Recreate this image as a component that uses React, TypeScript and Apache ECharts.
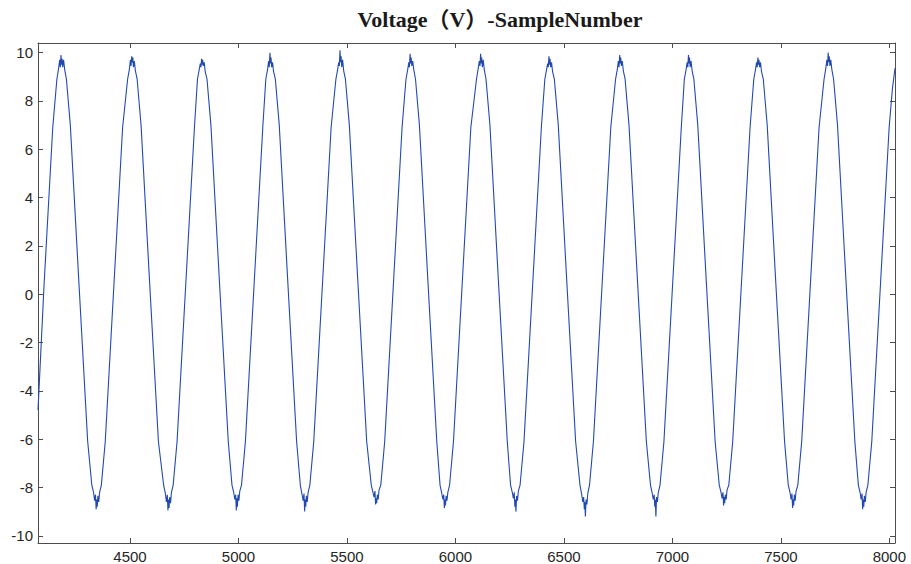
import React, { useEffect, useRef } from "react";
import * as echarts from "echarts";

const titleText = "Voltage（V）-SampleNumber";
const xTicks = [4500, 5000, 5500, 6000, 6500, 7000, 7500, 8000];
const yTicks = [-10, -8, -6, -4, -2, 0, 2, 4, 6, 8, 10];
const xRange = [4076, 8026];
const yRange = [-10.3, 10.4];

// [sample number, voltage]
const waveform: [number, number][] = [
  [4076, -4.8], [4104, 0.4], [4144, 6.9],
  [4163, 8.9], [4171, 9.35], [4176, 9.7], [4179, 9.4], [4182, 9.9], [4185, 9.5], [4187, 9.75], [4190, 9.4], [4194, 9.7], [4199, 9.3], [4207, 8.9], [4225, 7.0], [4265, 0.4], [4305, -6.1],
  [4324, -7.9], [4332, -8.2], [4337, -8.55], [4341, -8.3], [4344, -8.9], [4346, -8.5], [4349, -8.8], [4352, -8.35], [4356, -8.6], [4360, -8.2], [4368, -7.9], [4386, -6.1], [4426, 0.4], [4466, 6.9],
  [4489, 8.9], [4497, 9.3], [4502, 9.7], [4505, 9.45], [4508, 9.85], [4511, 9.6], [4513, 9.8], [4516, 9.4], [4520, 9.65], [4525, 9.25], [4533, 8.9], [4551, 7.0], [4591, 0.4], [4631, -6.1],
  [4655, -7.9], [4663, -8.25], [4668, -8.6], [4672, -8.3], [4675, -8.95], [4677, -8.5], [4680, -8.85], [4683, -8.4], [4687, -8.65], [4691, -8.2], [4699, -7.9], [4717, -6.1], [4757, 0.4], [4797, 6.9],
  [4811, 8.9], [4819, 9.3], [4824, 9.55], [4827, 9.4], [4830, 9.75], [4833, 9.5], [4835, 9.7], [4838, 9.45], [4842, 9.6], [4847, 9.2], [4855, 8.9], [4873, 7.0], [4913, 0.4], [4953, -6.1],
  [4970, -7.9], [4978, -8.2], [4983, -8.5], [4987, -8.3], [4990, -8.95], [4992, -8.45], [4995, -8.8], [4998, -8.3], [5002, -8.55], [5006, -8.15], [5014, -7.9], [5032, -6.1], [5072, 0.4], [5112, 6.9],
  [5126, 8.9], [5134, 9.3], [5139, 9.65], [5142, 9.4], [5145, 10.0], [5148, 9.55], [5150, 9.8], [5153, 9.4], [5157, 9.6], [5162, 9.2], [5170, 8.9], [5188, 7.0], [5228, 0.4], [5268, -6.1],
  [5285, -7.9], [5293, -8.3], [5298, -8.55], [5302, -8.25], [5305, -9.0], [5307, -8.5], [5310, -8.8], [5313, -8.35], [5317, -8.6], [5321, -8.2], [5329, -7.9], [5347, -6.1], [5387, 0.4], [5427, 6.9],
  [5449, 8.9], [5457, 9.3], [5462, 9.6], [5465, 9.45], [5468, 10.1], [5471, 9.6], [5473, 9.85], [5476, 9.4], [5480, 9.7], [5485, 9.25], [5493, 8.9], [5511, 7.0], [5551, 0.4], [5591, -6.1],
  [5612, -7.9], [5620, -8.2], [5625, -8.4], [5629, -8.15], [5632, -8.7], [5634, -8.45], [5637, -8.65], [5640, -8.3], [5644, -8.5], [5648, -8.1], [5656, -7.9], [5674, -6.1], [5714, 0.4], [5754, 6.9],
  [5772, 8.9], [5780, 9.3], [5785, 9.6], [5788, 9.4], [5791, 9.95], [5794, 9.55], [5796, 9.8], [5799, 9.45], [5803, 9.65], [5808, 9.3], [5816, 8.9], [5834, 7.0], [5874, 0.4], [5914, -6.1],
  [5929, -7.9], [5937, -8.25], [5942, -8.5], [5946, -8.3], [5949, -8.85], [5951, -8.5], [5954, -8.75], [5957, -8.35], [5961, -8.55], [5965, -8.2], [5973, -7.9], [5991, -6.1], [6031, 0.4], [6071, 6.9],
  [6097, 8.9], [6105, 9.35], [6110, 9.65], [6113, 9.45], [6116, 9.95], [6119, 9.55], [6121, 9.8], [6124, 9.4], [6128, 9.7], [6133, 9.3], [6141, 8.9], [6159, 7.0], [6199, 0.4], [6239, -6.1],
  [6254, -7.9], [6262, -8.2], [6267, -8.45], [6271, -8.2], [6274, -8.8], [6276, -8.5], [6279, -9.0], [6282, -8.35], [6286, -8.55], [6290, -8.15], [6298, -7.9], [6316, -6.1], [6356, 0.4], [6396, 6.9],
  [6412, 8.9], [6420, 9.3], [6425, 9.55], [6428, 9.4], [6431, 9.85], [6434, 9.5], [6436, 9.75], [6439, 9.4], [6443, 9.6], [6448, 9.2], [6456, 8.9], [6474, 7.0], [6514, 0.4], [6554, -6.1],
  [6574, -7.9], [6582, -8.3], [6587, -8.6], [6591, -8.4], [6594, -8.9], [6596, -8.6], [6599, -9.2], [6602, -8.5], [6606, -8.7], [6610, -8.25], [6618, -7.9], [6636, -6.1], [6676, 0.4], [6716, 6.9],
  [6738, 8.9], [6746, 9.3], [6751, 9.65], [6754, 9.4], [6757, 9.9], [6760, 9.55], [6762, 9.8], [6765, 9.45], [6769, 9.65], [6774, 9.25], [6782, 8.9], [6800, 7.0], [6840, 0.4], [6880, -6.1],
  [6899, -7.9], [6907, -8.25], [6912, -8.5], [6916, -8.3], [6919, -8.8], [6921, -8.5], [6924, -9.2], [6927, -8.4], [6931, -8.6], [6935, -8.2], [6943, -7.9], [6961, -6.1], [7001, 0.4], [7041, 6.9],
  [7055, 8.9], [7063, 9.3], [7068, 9.6], [7071, 9.4], [7074, 9.9], [7077, 9.55], [7079, 9.8], [7082, 9.4], [7086, 9.65], [7091, 9.25], [7099, 8.9], [7117, 7.0], [7157, 0.4], [7197, -6.1],
  [7216, -7.9], [7224, -8.2], [7229, -8.45], [7233, -8.2], [7236, -8.75], [7238, -8.4], [7241, -8.65], [7244, -8.3], [7248, -8.5], [7252, -8.1], [7260, -7.9], [7278, -6.1], [7318, 0.4], [7358, 6.9],
  [7375, 8.9], [7383, 9.3], [7388, 9.6], [7391, 9.4], [7394, 9.8], [7397, 9.5], [7399, 9.7], [7402, 9.4], [7406, 9.6], [7411, 9.2], [7419, 8.9], [7437, 7.0], [7477, 0.4], [7517, -6.1],
  [7534, -7.9], [7542, -8.2], [7547, -8.5], [7551, -8.25], [7554, -8.85], [7556, -8.5], [7559, -8.75], [7562, -8.3], [7566, -8.55], [7570, -8.15], [7578, -7.9], [7596, -6.1], [7636, 0.4], [7676, 6.9],
  [7699, 8.9], [7707, 9.35], [7712, 9.7], [7715, 9.45], [7718, 10.0], [7721, 9.6], [7723, 9.85], [7726, 9.45], [7730, 9.7], [7735, 9.3], [7743, 8.9], [7761, 7.0], [7801, 0.4], [7841, -6.1],
  [7857, -7.9], [7865, -8.2], [7870, -8.5], [7874, -8.25], [7877, -8.9], [7879, -8.5], [7882, -8.8], [7885, -8.35], [7889, -8.6], [7893, -8.2], [7901, -7.9], [7919, -6.1], [7959, 0.4], [7999, 6.9],
  [8014, 8.5], [8026, 9.35],
];

const axisColor = "#4d4d4d";
const labelColor = "#262626";
const lineColor = "#2149b0";

export default function App() {
  const ref = useRef<HTMLDivElement>(null);
  useEffect(() => {
    if (!ref.current) return;
    const chart = echarts.init(ref.current, undefined, { renderer: "svg" });
    const tickCommon = { show: true, inside: true, length: 5, lineStyle: { color: axisColor, width: 1 } };
    const labelFont = {
      fontFamily: "Liberation Sans, Arial, sans-serif",
      fontSize: 15,
      color: labelColor,
      formatter: (v: number) => String(v),
    };
    chart.setOption({
      animation: false,
      backgroundColor: "#ffffff",
      graphic: [
        {
          type: "text",
          x: 500,
          y: 8,
          style: {
            text: titleText,
            textAlign: "center",
            textVerticalAlign: "top",
            fontFamily: "Liberation Serif, 'Times New Roman', 'Noto Sans CJK SC', serif",
            fontWeight: "bold",
            fontSize: 22,
            fill: "#1a1a1a",
          },
        },
      ],
      grid: { left: 38, top: 43, right: 16, bottom: 21, containLabel: false },
      xAxis: [
        {
          type: "value",
          min: xRange[0],
          max: xRange[1],
          axisLine: { show: true, onZero: false, lineStyle: { color: axisColor, width: 1 } },
          axisTick: { ...tickCommon, customValues: xTicks },
          axisLabel: { ...labelFont, margin: 6, customValues: xTicks },
          splitLine: { show: false },
        },
        {
          type: "value",
          position: "top",
          min: xRange[0],
          max: xRange[1],
          axisLine: { show: true, onZero: false, lineStyle: { color: axisColor, width: 1 } },
          axisTick: { ...tickCommon, customValues: xTicks },
          axisLabel: { show: false },
          splitLine: { show: false },
        },
      ],
      yAxis: [
        {
          type: "value",
          min: yRange[0],
          max: yRange[1],
          axisLine: { show: true, onZero: false, lineStyle: { color: axisColor, width: 1 } },
          axisTick: { ...tickCommon, customValues: yTicks },
          axisLabel: { ...labelFont, margin: 5, customValues: yTicks },
          splitLine: { show: false },
        },
        {
          type: "value",
          position: "right",
          min: yRange[0],
          max: yRange[1],
          axisLine: { show: true, onZero: false, lineStyle: { color: axisColor, width: 1 } },
          axisTick: { ...tickCommon, customValues: yTicks },
          axisLabel: { show: false },
          splitLine: { show: false },
        },
      ],
      series: [
        {
          type: "line",
          xAxisIndex: 0,
          yAxisIndex: 0,
          data: waveform,
          showSymbol: false,
          symbol: "none",
          lineStyle: { color: lineColor, width: 1.1 },
        },
      ],
    });
    return () => chart.dispose();
  }, []);
  return (
    <div
      ref={ref}
      style={{ position: "fixed", left: 0, top: 0, width: 911, height: 564, background: "#fff" }}
    />
  );
}
